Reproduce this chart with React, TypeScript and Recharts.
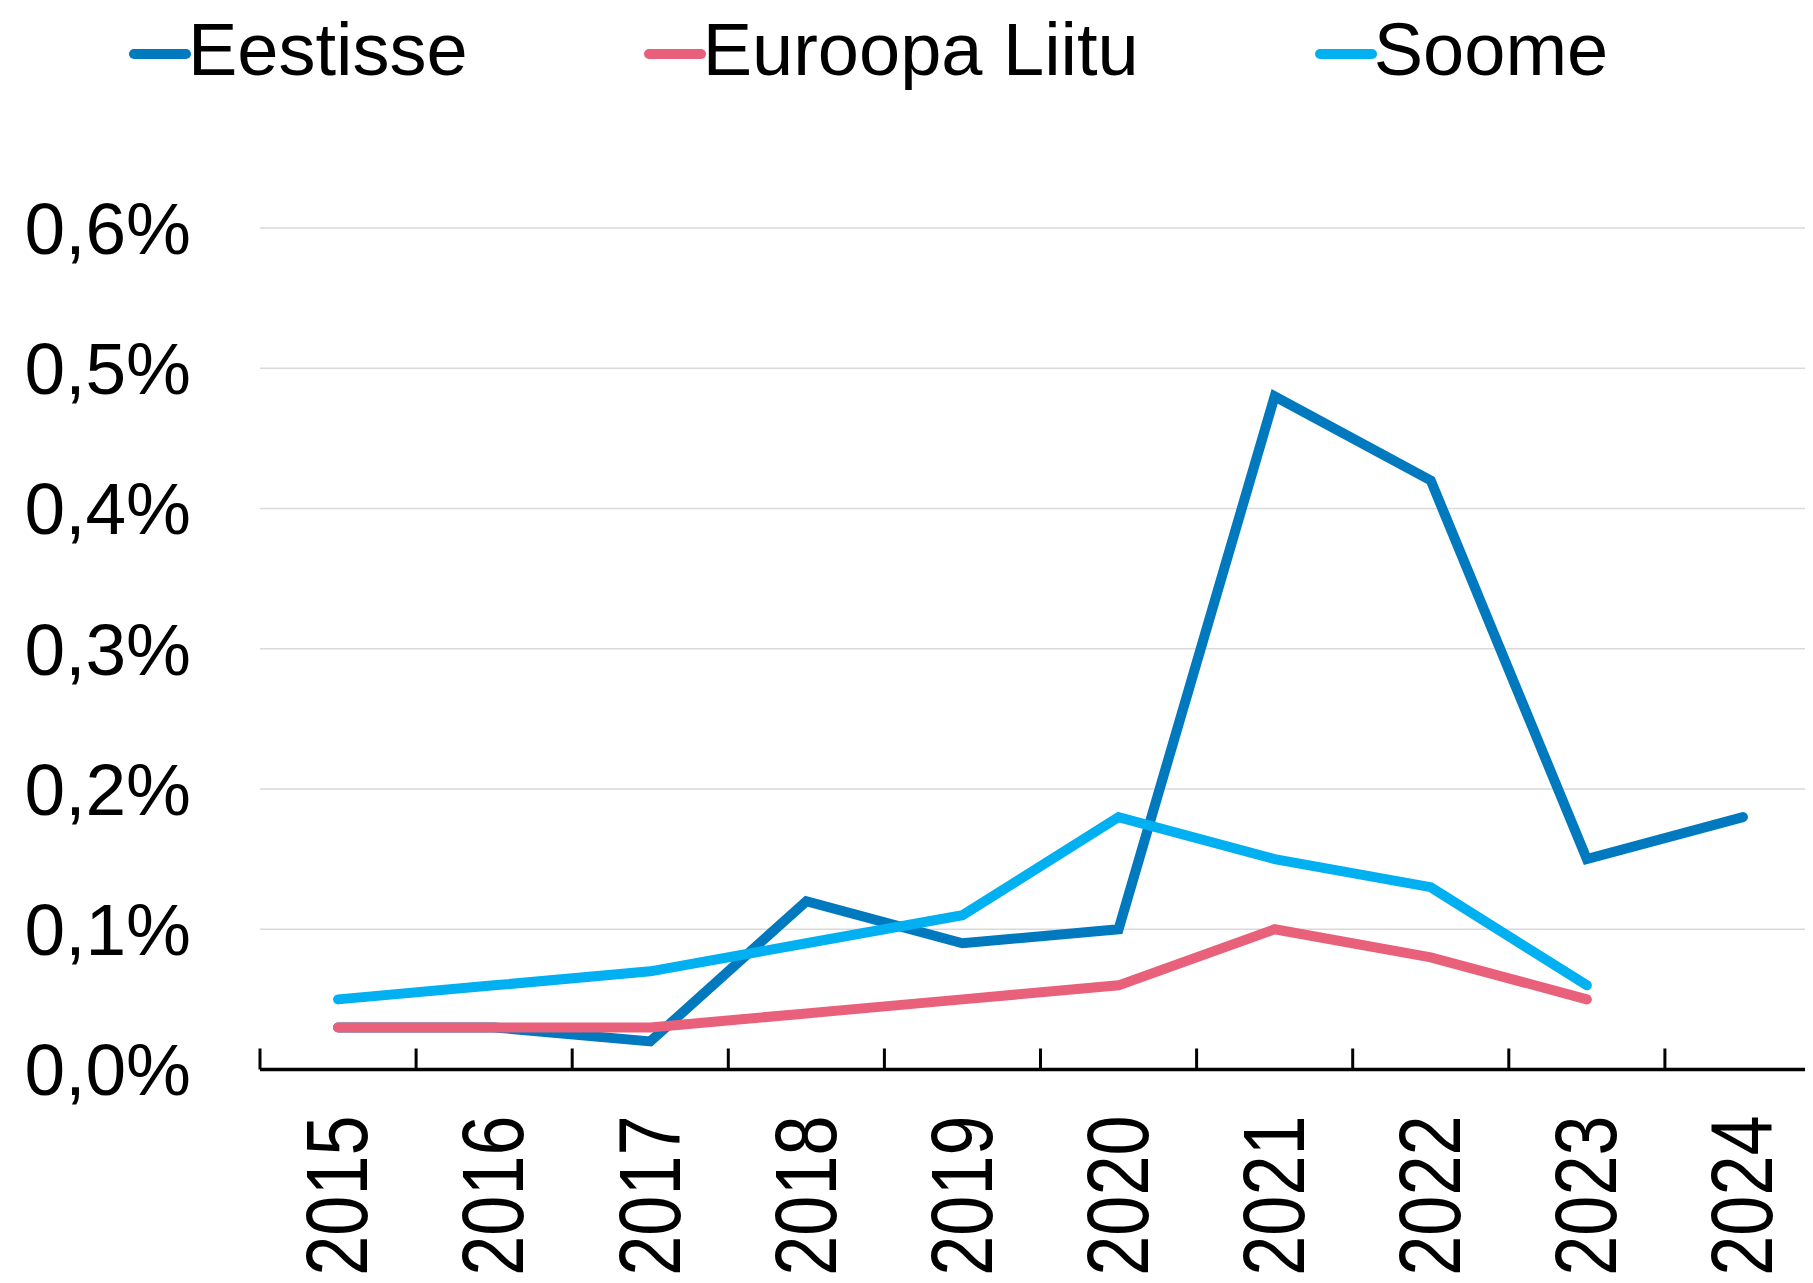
import React from 'react';
import { LineChart, Line, XAxis, YAxis, CartesianGrid, Legend } from 'recharts';

const years = ['2015', '2016', '2017', '2018', '2019', '2020', '2021', '2022', '2023', '2024'];
const eestisse = [0.03, 0.03, 0.02, 0.12, 0.09, 0.1, 0.48, 0.42, 0.15, 0.18];
const euroopaLiitu = [0.03, 0.03, 0.03, 0.04, 0.05, 0.06, 0.1, 0.08, 0.05, null];
const soome = [0.05, 0.06, 0.07, 0.09, 0.11, 0.18, 0.15, 0.13, 0.06, null];
const yTicks = [0, 0.1, 0.2, 0.3, 0.4, 0.5, 0.6];

const data = years.map((year, i) => ({
  year,
  eestisse: eestisse[i],
  euroopaLiitu: euroopaLiitu[i],
  soome: soome[i],
}));

const FONT = '"Liberation Sans", Arial, sans-serif';
const CHART_W = 1830;
const CHART_H = 1283;
const Y_AXIS_W = 260;
const MARGIN = { top: 128, right: 9, bottom: 0, left: 0 };
const BAND = (CHART_W - Y_AXIS_W - MARGIN.right) / years.length;

const formatPct = (v: number) => `${v.toFixed(1).replace('.', ',')}%`;

function YearTick(props: any) {
  const { x, y, payload, index } = props;
  const ty = y + 46;
  return (
    <g>
      <line x1={x - BAND / 2} x2={x - BAND / 2} y1={y} y2={y - 21} stroke="#000" strokeWidth={3} />
      {index === years.length - 1 && (
        <line x1={x + BAND / 2} x2={x + BAND / 2} y1={y} y2={y - 21} stroke="#000" strokeWidth={3} />
      )}
      <text
        x={0}
        y={0}
        dy="0.35em"
        textAnchor="end"
        transform={`translate(${x - 1}, ${ty}) rotate(-90) scale(1, 1.2)`}
        fontSize={72}
        fontFamily={FONT}
        fill="#000"
      >
        {payload.value}
      </text>
    </g>
  );
}

function LegendRow(props: any) {
  const { payload = [] } = props;
  return (
    <div style={{ display: 'flex', height: 100, paddingLeft: 129, gap: 176, alignItems: 'flex-start' }}>
      {payload.map((entry: any) => (
        <div key={entry.value} style={{ display: 'flex', alignItems: 'center', height: 100 }}>
          <svg width={62} height={20} style={{ marginTop: 8 }}>
            <line x1={5} x2={57} y1={10} y2={10} stroke={entry.color} strokeWidth={10} strokeLinecap="round" />
          </svg>
          <span style={{ fontSize: 74, fontFamily: FONT, color: '#000', lineHeight: 1, marginLeft: -3 }}>
            {entry.value}
          </span>
        </div>
      ))}
    </div>
  );
}

export default function App() {
  return (
    <div style={{ margin: -8, width: 1813, height: CHART_H, overflow: 'hidden', background: '#fff' }}>
      <LineChart width={CHART_W} height={CHART_H} data={data} margin={MARGIN}>
        <CartesianGrid vertical={false} stroke="#d9d9d9" strokeWidth={1.5} />
        <XAxis
          dataKey="year"
          height={213.5}
          interval={0}
          padding={{ left: BAND / 2, right: BAND / 2 }}
          tickLine={false}
          tickSize={0}
          tickMargin={0}
          axisLine={{ stroke: '#000', strokeWidth: 3.5 }}
          tick={<YearTick />}
        />
        <YAxis
          width={Y_AXIS_W}
          domain={[0, 0.6]}
          ticks={yTicks}
          tickFormatter={formatPct}
          axisLine={false}
          tickLine={false}
          tickSize={0}
          tickMargin={69}
          tick={{ fontSize: 73, fontFamily: FONT, fill: '#000' }}
        />
        <Legend
          verticalAlign="top"
          align="left"
          height={100}
          wrapperStyle={{ top: 0, left: 0 }}
          content={<LegendRow />}
        />
        <Line
          type="linear"
          dataKey="eestisse"
          name="Eestisse"
          stroke="#0079be"
          strokeWidth={10}
          strokeLinecap="round"
          dot={false}
          activeDot={false}
          isAnimationActive={false}
        />
        <Line
          type="linear"
          dataKey="euroopaLiitu"
          name="Euroopa Liitu"
          stroke="#e8607a"
          strokeWidth={10}
          strokeLinecap="round"
          dot={false}
          activeDot={false}
          isAnimationActive={false}
        />
        <Line
          type="linear"
          dataKey="soome"
          name="Soome"
          stroke="#00b0f0"
          strokeWidth={10}
          strokeLinecap="round"
          dot={false}
          activeDot={false}
          isAnimationActive={false}
        />
      </LineChart>
    </div>
  );
}
